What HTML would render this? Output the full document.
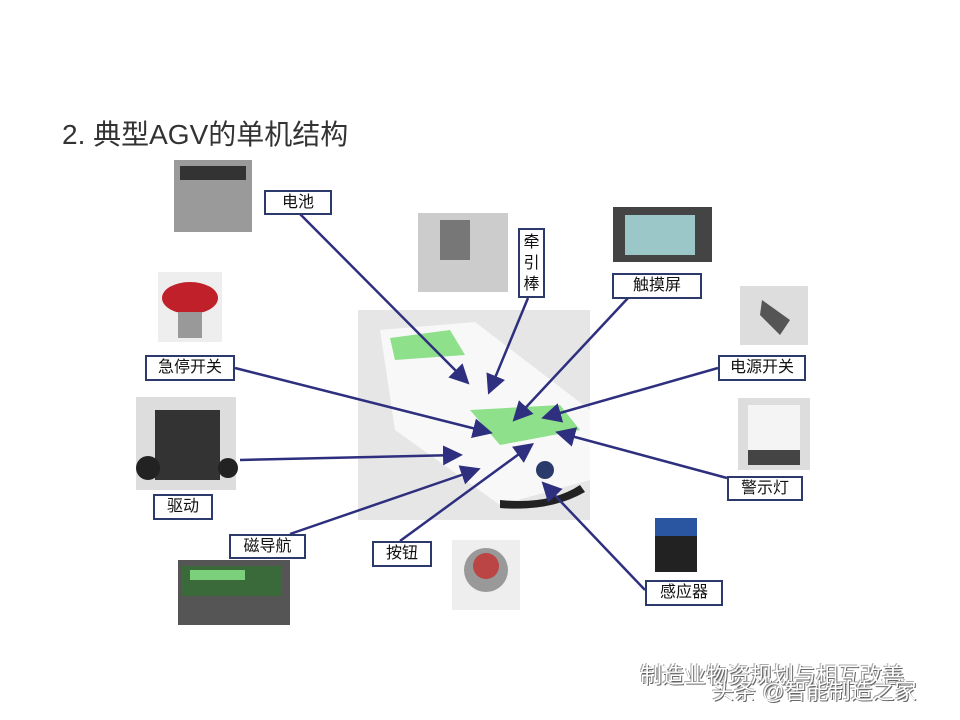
<!DOCTYPE html>
<html><head><meta charset="utf-8"><style>
body{margin:0;width:960px;height:720px;background:#fff;position:relative;overflow:hidden;font-family:"Liberation Sans","Noto Sans CJK SC",sans-serif}
.t{position:absolute;left:62px;top:113px;font-size:28px;color:#333}
.l{position:absolute;border:2px solid #2b3a6b;background:#fff;font-size:16px;color:#111;text-align:center;box-sizing:border-box;line-height:21px}
.wm{position:absolute;font-size:22px;color:#fff;text-shadow:1px 1px 0 #666,-1px -1px 0 #aaa}
</style></head><body>
<div class="t">2. 典型AGV的单机结构</div>
<svg width="960" height="720" style="position:absolute;left:0;top:0">
<defs><marker id="a" markerWidth="8" markerHeight="8" refX="6" refY="4" orient="auto"><path d="M0,0 L8,4 L0,8 z" fill="#2e2f7e"/></marker></defs>
<rect x="358" y="310" width="232" height="210" fill="#e6e6e6"/>
<polygon points="380,330 475,322 590,410 590,480 500,505 395,430" fill="#f8f8f8"/>
<polygon points="390,338 450,330 465,355 395,360" fill="#8ee08a"/>
<polygon points="470,410 560,405 580,430 500,445" fill="#8ee08a"/>
<path d="M500,500 Q550,505 580,485 L585,492 Q550,512 500,508 z" fill="#222"/>
<circle cx="545" cy="470" r="9" fill="#2a3a6a"/>
<rect x="174" y="160" width="78" height="72" fill="#9a9a9a"/><rect x="180" y="166" width="66" height="14" fill="#333"/>
<rect x="158" y="272" width="64" height="70" fill="#eee"/><ellipse cx="190" cy="298" rx="28" ry="16" fill="#c0202a"/><rect x="178" y="312" width="24" height="26" fill="#999"/>
<rect x="136" y="397" width="100" height="93" fill="#ddd"/><rect x="155" y="410" width="65" height="70" fill="#333"/><circle cx="148" cy="468" r="12" fill="#222"/><circle cx="228" cy="468" r="10" fill="#222"/>
<rect x="178" y="560" width="112" height="65" fill="#555"/><rect x="182" y="566" width="100" height="30" fill="#3a6a3a"/><rect x="190" y="570" width="55" height="10" fill="#7cd07c"/>
<rect x="418" y="213" width="90" height="79" fill="#ccc"/><rect x="440" y="220" width="30" height="40" fill="#777"/>
<rect x="613" y="207" width="99" height="55" fill="#444"/><rect x="625" y="215" width="70" height="40" fill="#9cc7c8"/>
<rect x="740" y="286" width="68" height="59" fill="#ddd"/><path d="M762,300 L790,320 L780,335 L760,315z" fill="#555"/>
<rect x="738" y="398" width="72" height="72" fill="#ddd"/><rect x="748" y="405" width="52" height="50" fill="#f4f4f4"/><rect x="748" y="450" width="52" height="15" fill="#444"/>
<rect x="650" y="515" width="60" height="60" fill="#fff"/><rect x="655" y="518" width="42" height="18" fill="#2a55a0"/><rect x="655" y="536" width="42" height="36" fill="#222"/>
<rect x="452" y="540" width="68" height="70" fill="#eee"/><circle cx="486" cy="570" r="22" fill="#999"/><circle cx="486" cy="566" r="13" fill="#b44"/>
<g stroke="#2e2f7e" stroke-width="2.5" marker-end="url(#a)">
<line x1="300" y1="214" x2="466" y2="381"/>
<line x1="528" y1="298" x2="490" y2="390"/>
<line x1="628" y1="298" x2="516" y2="418"/>
<line x1="235" y1="368" x2="488" y2="432"/>
<line x1="718" y1="368" x2="546" y2="417"/>
<line x1="727" y1="478" x2="560" y2="433"/>
<line x1="240" y1="460" x2="458" y2="455"/>
<line x1="290" y1="534" x2="476" y2="470"/>
<line x1="400" y1="541" x2="530" y2="446"/>
<line x1="645" y1="590" x2="545" y2="485"/>
</g>
</svg>
<div class="l" style="left:264px;top:190px;width:68px;height:25px">电池</div>
<div class="l" style="left:518px;top:228px;width:27px;height:70px;line-height:21px;padding-top:2px">牵<br>引<br>棒</div>
<div class="l" style="left:612px;top:273px;width:90px;height:26px">触摸屏</div>
<div class="l" style="left:145px;top:355px;width:90px;height:26px">急停开关</div>
<div class="l" style="left:718px;top:355px;width:88px;height:26px">电源开关</div>
<div class="l" style="left:727px;top:476px;width:76px;height:25px">警示灯</div>
<div class="l" style="left:153px;top:494px;width:60px;height:26px">驱动</div>
<div class="l" style="left:229px;top:534px;width:77px;height:25px">磁导航</div>
<div class="l" style="left:372px;top:541px;width:60px;height:26px">按钮</div>
<div class="l" style="left:645px;top:580px;width:78px;height:26px">感应器</div>
<div class="wm" style="left:640px;top:658px">制造业物资规划与相互改善</div>
<div class="wm" style="left:712px;top:674px">头条 @智能制造之家</div>
</body></html>
